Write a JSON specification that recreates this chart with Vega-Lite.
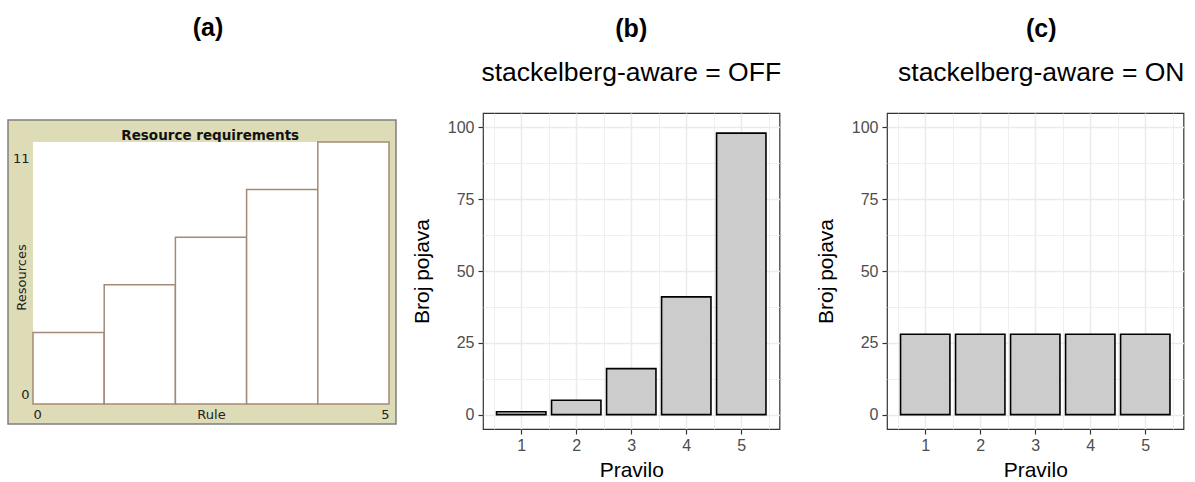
{
  "$schema": "https://vega.github.io/schema/vega-lite/v6.json",
  "padding": {"left": 7, "top": 16, "right": 10, "bottom": 0},
  "background": "white",
  "config": {
    "font": "Liberation Sans",
    "axis": {"labelFont": "Liberation Sans", "titleFont": "Liberation Sans"},
    "view": {"stroke": null}
  },
  "datasets": {
    "requirements": [
      {"from": 0, "to": 1, "resources": 3},
      {"from": 1, "to": 2, "resources": 5},
      {"from": 2, "to": 3, "resources": 7},
      {"from": 3, "to": 4, "resources": 9},
      {"from": 4, "to": 5, "resources": 11}
    ],
    "off": [
      {"pravilo": 1, "broj": 1},
      {"pravilo": 2, "broj": 5},
      {"pravilo": 3, "broj": 16},
      {"pravilo": 4, "broj": 41},
      {"pravilo": 5, "broj": 98}
    ],
    "on": [
      {"pravilo": 1, "broj": 28},
      {"pravilo": 2, "broj": 28},
      {"pravilo": 3, "broj": 28},
      {"pravilo": 4, "broj": 28},
      {"pravilo": 5, "broj": 28}
    ],
    "none": []
  },
  "spacing": 14,
  "hconcat": [
    {
      "spacing": 5,
      "vconcat": [
        {
          "width": 388,
          "height": 1,
          "data": {"name": "none"},
          "mark": "point",
          "encoding": {},
          "title": {"text": "(a)", "fontSize": 25, "fontWeight": "bold", "font": "Liberation Sans", "color": "black", "anchor": "middle", "frame": "group", "offset": 71.6, "dx": 6}
        },
        {
          "width": 388,
          "height": 304,
          "view": {"fill": "#dddcb6", "stroke": "#7f7f7f", "strokeWidth": 1.5},
          "data": {"name": "requirements"},
          "resolve": {"axis": {"x": "independent"}},
          "layer": [
            {
              "mark": {"type": "rect", "fill": "white"},
              "encoding": {
                "x": {"aggregate": "min", "field": "from", "type": "quantitative",
                      "scale": {"domain": [-0.351, 5.098], "nice": false, "zero": false, "padding": 0},
                      "axis": {"orient": "top", "offset": -22, "labels": false, "ticks": false, "domain": false, "grid": false,
                               "title": "Resource requirements", "titleFont": "DejaVu Sans", "titleFontSize": 13.5, "titleFontWeight": "bold",
                               "titleColor": "#111111", "titlePadding": 0, "titleX": 201.7}},
                "x2": {"aggregate": "max", "field": "to"},
                "y": {"aggregate": "max", "field": "resources", "type": "quantitative",
                      "scale": {"domain": [-0.84, 11.92], "nice": false, "zero": false, "padding": 0},
                      "axis": {"orient": "left", "values": [0.378, 10.29],
                               "labelExpr": "datum.value > 5 ? '11' : '0'",
                               "labelAlign": "right", "labelBaseline": "middle", "labelPadding": -21, "labelOverlap": false, "labelFlush": false,
                               "labelFont": "DejaVu Sans", "labelFontSize": 13, "labelColor": "#222222",
                               "ticks": false, "tickSize": 0, "domain": false, "grid": false,
                               "title": "Resources", "titleFont": "DejaVu Sans", "titleFontSize": 13, "titleFontWeight": "normal",
                               "titleColor": "#222222", "titleAngle": 270, "titleBaseline": "middle", "titleAlign": "center",
                               "titleX": 13.7, "titleY": 157}},
                "y2": {"datum": 0}
              }
            },
            {
              "mark": {"type": "rect", "fill": "white", "stroke": "#a48a74", "strokeWidth": 1.5},
              "encoding": {
                "x": {"field": "from", "type": "quantitative",
                      "scale": {"domain": [-0.351, 5.098], "nice": false, "zero": false, "padding": 0},
                      "axis": {"orient": "bottom", "offset": -20, "values": [0, 2.5, 5],
                               "labelExpr": "datum.value == 0 ? '0' : (datum.value == 5 ? '5' : 'Rule')",
                               "labelFlush": 40, "labelBaseline": "middle", "labelPadding": 10, "labelOverlap": false,
                               "labelFont": "DejaVu Sans", "labelFontSize": 13, "labelColor": "#222222",
                               "ticks": false, "tickSize": 0, "domain": false, "grid": false, "title": null}},
                "x2": {"field": "to"},
                "y": {"field": "resources", "type": "quantitative",
                      "scale": {"domain": [-0.84, 11.92], "nice": false, "zero": false, "padding": 0},
                      "axis": {"orient": "left", "values": [0.378, 10.29],
                               "labelExpr": "datum.value > 5 ? '11' : '0'",
                               "labelAlign": "right", "labelBaseline": "middle", "labelPadding": -21, "labelOverlap": false, "labelFlush": false,
                               "labelFont": "DejaVu Sans", "labelFontSize": 13, "labelColor": "#222222",
                               "ticks": false, "tickSize": 0, "domain": false, "grid": false,
                               "title": "Resources", "titleFont": "DejaVu Sans", "titleFontSize": 13, "titleFontWeight": "normal",
                               "titleColor": "#222222", "titleAngle": 270, "titleBaseline": "middle", "titleAlign": "center",
                               "titleX": 13.7, "titleY": 157}},
                "y2": {"datum": 0}
              }
            }
          ]
        }
      ]
    },
    {
      "spacing": 33,
      "hconcat": [
        {
          "width": 296.5,
          "height": 316,
          "view": {"fill": "white", "stroke": "#333333", "strokeWidth": 1.2},
          "title": {"text": "(b)", "subtitle": "stackelberg-aware = OFF", "fontSize": 25, "fontWeight": "bold", "color": "black", "font": "Liberation Sans",
                    "subtitleFont": "Liberation Sans", "subtitleFontSize": 26.5, "subtitleColor": "black", "subtitlePadding": 18,
                    "anchor": "middle", "frame": "group", "offset": 26.5},
          "data": {"name": "off"},
          "mark": {"type": "bar", "width": 49.4, "fill": "#CCCCCC", "stroke": "black", "strokeWidth": 1.6},
          "encoding": {
            "x": {"field": "pravilo", "type": "quantitative",
                  "scale": {"domain": [0.305, 5.695], "nice": false, "zero": false, "padding": 0},
                  "axis": {"values": [0.5, 1, 1.5, 2, 2.5, 3, 3.5, 4, 4.5, 5, 5.5],
                           "labelExpr": "datum.value % 1 ? '' : '' + datum.value",
                           "title": "Pravilo", "domain": false, "tickSize": 5, "tickColor": "#333333", "tickWidth": 1.2,
                           "tickOpacity": {"condition": {"test": "datum.value % 1 != 0", "value": 0}, "value": 1},
                           "gridColor": "#EBEBEB",
                           "gridWidth": {"condition": {"test": "datum.value % 1 != 0", "value": 0.8}, "value": 1.5},
                           "labelFontSize": 16, "labelColor": "#4D4D4D", "labelPadding": 3, "labelOverlap": false, "labelFlush": false,
                           "titleFontSize": 21, "titleFontWeight": "normal", "titleColor": "black", "titlePadding": 6}},
            "y": {"field": "broj", "type": "quantitative",
                  "scale": {"domain": [-5, 105], "nice": false, "zero": false, "padding": 0},
                  "axis": {"values": [0, 12.5, 25, 37.5, 50, 62.5, 75, 87.5, 100],
                           "labelExpr": "datum.value % 25 ? '' : '' + datum.value",
                           "title": "Broj pojava", "domain": false, "tickSize": 5, "tickColor": "#333333", "tickWidth": 1.2,
                           "tickOpacity": {"condition": {"test": "datum.value % 25 != 0", "value": 0}, "value": 1},
                           "gridColor": "#EBEBEB",
                           "gridWidth": {"condition": {"test": "datum.value % 25 != 0", "value": 0.8}, "value": 1.5},
                           "labelFontSize": 16, "labelColor": "#4D4D4D", "labelPadding": 4, "labelOverlap": false, "labelFlush": false,
                           "titleFontSize": 21, "titleFontWeight": "normal", "titleColor": "black", "titlePadding": 14.5}}
          }
        },
        {
          "width": 296.5,
          "height": 316,
          "view": {"fill": "white", "stroke": "#333333", "strokeWidth": 1.2},
          "title": {"text": "(c)", "subtitle": "stackelberg-aware = ON", "fontSize": 25, "fontWeight": "bold", "color": "black", "font": "Liberation Sans",
                    "subtitleFont": "Liberation Sans", "subtitleFontSize": 26.5, "subtitleColor": "black", "subtitlePadding": 18,
                    "anchor": "middle", "frame": "group", "offset": 26.5, "dx": 6},
          "data": {"name": "on"},
          "mark": {"type": "bar", "width": 49.4, "fill": "#CCCCCC", "stroke": "black", "strokeWidth": 1.6},
          "encoding": {
            "x": {"field": "pravilo", "type": "quantitative",
                  "scale": {"domain": [0.305, 5.695], "nice": false, "zero": false, "padding": 0},
                  "axis": {"values": [0.5, 1, 1.5, 2, 2.5, 3, 3.5, 4, 4.5, 5, 5.5],
                           "labelExpr": "datum.value % 1 ? '' : '' + datum.value",
                           "title": "Pravilo", "domain": false, "tickSize": 5, "tickColor": "#333333", "tickWidth": 1.2,
                           "tickOpacity": {"condition": {"test": "datum.value % 1 != 0", "value": 0}, "value": 1},
                           "gridColor": "#EBEBEB",
                           "gridWidth": {"condition": {"test": "datum.value % 1 != 0", "value": 0.8}, "value": 1.5},
                           "labelFontSize": 16, "labelColor": "#4D4D4D", "labelPadding": 3, "labelOverlap": false, "labelFlush": false,
                           "titleFontSize": 21, "titleFontWeight": "normal", "titleColor": "black", "titlePadding": 6}},
            "y": {"field": "broj", "type": "quantitative",
                  "scale": {"domain": [-5, 105], "nice": false, "zero": false, "padding": 0},
                  "axis": {"values": [0, 12.5, 25, 37.5, 50, 62.5, 75, 87.5, 100],
                           "labelExpr": "datum.value % 25 ? '' : '' + datum.value",
                           "title": "Broj pojava", "domain": false, "tickSize": 5, "tickColor": "#333333", "tickWidth": 1.2,
                           "tickOpacity": {"condition": {"test": "datum.value % 25 != 0", "value": 0}, "value": 1},
                           "gridColor": "#EBEBEB",
                           "gridWidth": {"condition": {"test": "datum.value % 25 != 0", "value": 0.8}, "value": 1.5},
                           "labelFontSize": 16, "labelColor": "#4D4D4D", "labelPadding": 4, "labelOverlap": false, "labelFlush": false,
                           "titleFontSize": 21, "titleFontWeight": "normal", "titleColor": "black", "titlePadding": 14.5}}
          }
        }
      ]
    }
  ]
}
